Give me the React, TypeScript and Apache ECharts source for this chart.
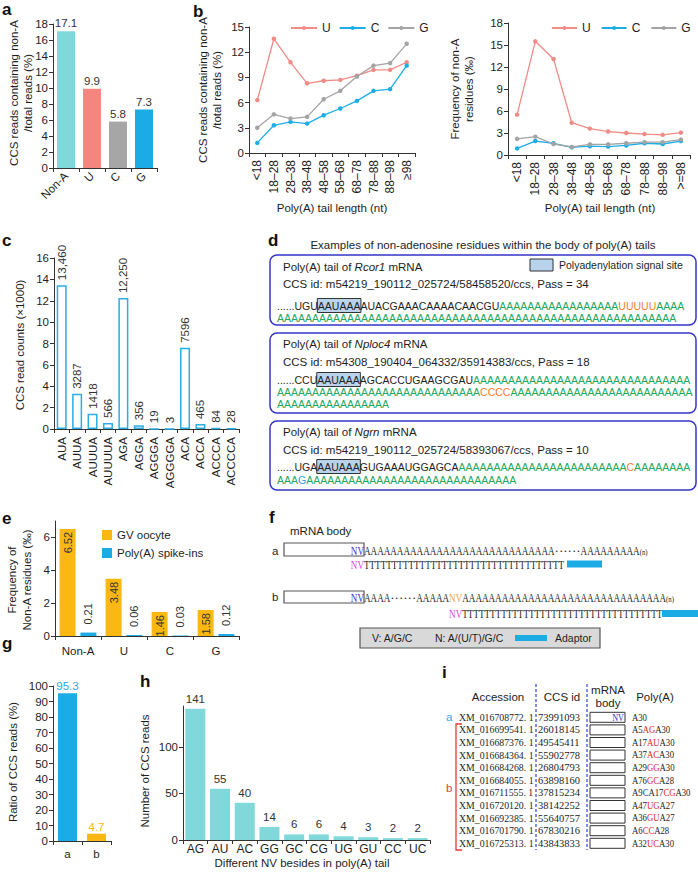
import { useEffect, useRef } from 'react';
import * as echarts from 'echarts';

const SANS = "'Liberation Sans', Arial, Helvetica, sans-serif";
const SERIF = "'Liberation Serif', 'Times New Roman', Times, serif";

const CYAN = '#80D8DB';
const SALMON = '#F4867F';
const GRAY = '#A6A6A6';
const BLUE = '#1BACE6';
const YELLOW = '#FBB812';
const LINE_U = '#F08B86';
const LINE_C = '#1DAEE5';
const LINE_G = '#A4A4A4';
const TXT = '#1e1e1e';
const AXC = '#333333';
const GREEN = '#23A75B';
const ORANGE = '#F07E2E';
const RED = '#E3262B';
const NAVY = '#3535C8';

// ---------- panel a
const aCategories = ['Non-A', 'U', 'C', 'G'];
const aValues = [17.1, 9.9, 5.8, 7.3];
const aColors = [CYAN, SALMON, GRAY, BLUE];

// ---------- panel b
const bLengthsLeft = ['<18', '18–28', '28–38', '38–48', '48–58', '58–68', '68–78', '78–88', '88–98', '≥98'];
const bLengthsRight = ['<18', '18–28', '28–38', '38–48', '48–58', '58–68', '68–78', '78–88', '88–98', '>=98'];
const bReadsU = [6.3, 13.6, 10.8, 8.3, 8.6, 8.7, 9.2, 9.9, 9.9, 10.8];
const bReadsC = [1.2, 3.3, 3.7, 3.5, 4.5, 5.3, 6.2, 7.4, 7.6, 10.4];
const bReadsG = [3.0, 4.6, 4.1, 4.3, 6.4, 7.4, 9.1, 10.4, 10.7, 13.0];
const bFreqU = [5.5, 15.5, 13.1, 4.4, 3.6, 3.2, 3.0, 2.85, 2.75, 3.05];
const bFreqC = [0.9, 1.9, 1.6, 1.05, 1.2, 1.15, 1.3, 1.6, 1.5, 1.9];
const bFreqG = [2.2, 2.5, 1.5, 1.1, 1.45, 1.45, 1.6, 1.75, 1.75, 2.1];

// ---------- panel c
const cMotifs = ['AUA', 'AUUA', 'AUUUA', 'AUUUUA', 'AGA', 'AGGA', 'AGGGA', 'AGGGGA', 'ACA', 'ACCA', 'ACCCA', 'ACCCCA'];
const cCounts = [13460, 3287, 1418, 566, 12250, 356, 19, 3, 7596, 465, 84, 28];

// ---------- panel e
const eCategories = ['Non-A', 'U', 'C', 'G'];
const eOocyte = [6.52, 3.48, 1.46, 1.58];
const eSpikeIns = [0.21, 0.06, 0.03, 0.12];

// ---------- panel g
const gCategories = ['a', 'b'];
const gValues = [95.3, 4.7];
const gColors = [BLUE, YELLOW];

// ---------- panel h
const hPairs = ['AG', 'AU', 'AC', 'GG', 'GC', 'CG', 'UG', 'GU', 'CC', 'UC'];
const hCounts = [141, 55, 40, 14, 6, 6, 4, 3, 2, 2];

// ---------- panel d (text)
const dGenes = ['Rcor1', 'Nploc4', 'Ngrn'];
const dCcsIds = [
  'CCS id: m54219_190112_025724/58458520/ccs, Pass = 34',
  'CCS id: m54308_190404_064332/35914383/ccs, Pass = 18',
  'CCS id: m54219_190112_025724/58393067/ccs, Pass = 10',
];
const A = (n: number) => 'A'.repeat(n);
// kinds: k black, h highlighted, a green A, u orange, g blue
const dSeqs: [string, string][][][] = [
  [
    [['......UGU', 'k'], ['AAUAAA', 'h'], ['AUACGAAACAAAACAACGU', 'k'], [A(17), 'a'], ['UUUUU', 'u'], ['AAAA', 'a']],
    [[A(57), 'a']],
  ],
  [
    [['......CCU', 'k'], ['AAUAAA', 'h'], ['AGCACCUGAAGCGAU', 'k'], [A(31), 'a']],
    [[A(29), 'a'], ['CCCC', 'u'], [A(26), 'a']],
    [[A(16), 'a']],
  ],
  [
    [['......UGA', 'k'], ['AAUAAA', 'h'], ['GUGAAAUGGAGCA', 'k'], [A(24), 'a'], ['C', 'u'], [A(8), 'a']],
    [['AAA', 'a'], ['G', 'g'], [A(30), 'a']],
  ],
];

// ---------- panel i (text)
const iAccessions = [
  'XM_016708772. 1', 'XM_016699541. 1', 'XM_016687376. 1', 'XM_016684364. 1', 'XM_016684268. 1', 'XM_016684055. 1',
  'XM_016711555. 1', 'XM_016720120. 1', 'XM_016692385. 1', 'XM_016701790. 1', 'XM_016725313. 1',
];
const iCcsIds = ['73991093', '26018145', '49545411', '55902778', '26804793', '63898160', '37815234', '38142252', '55640757', '67830216', '43843833'];
const iPolyA = ['A30', 'A5[AG]A30', 'A17[AU]A30', 'A37[AC]A30', 'A29[GG]A30', 'A76[GC]A28', 'A9{C}A17[CG]A30', 'A47[UG]A27', 'A36[GU]A27', 'A6[CC]A28', 'A32[UC]A30'];

// ---------- helpers
let mctx: CanvasRenderingContext2D | null = null;
function measure(text: string, size: number, fam: string, italic?: boolean) {
  if (!mctx) mctx = document.createElement('canvas').getContext('2d');
  mctx!.font = `${italic ? 'italic ' : ''}${size}px ${fam}`;
  return mctx!.measureText(text).width;
}

function textEl(x: number, y: number, text: string, o: any = {}) {
  const style: any = {
    text,
    fill: o.c || TXT,
    fontSize: o.size || 11.5,
    fontFamily: o.fam || SANS,
    fontStyle: o.italic ? 'italic' : 'normal',
    fontWeight: o.bold ? 'bold' : 'normal',
    align: o.align || 'left',
    verticalAlign: o.va || 'middle',
  };
  if (o.lh) style.lineHeight = o.lh;
  return { type: 'text', x, y, silent: true, rotation: o.rotation || 0, scaleX: o.sx || 1, style };
}

type Seg = { t: string; c?: string; size?: number; fam?: string; italic?: boolean; sx?: number; dy?: number; hl?: boolean };
function run(x0: number, y: number, segs: Seg[]) {
  let x = x0;
  const els: any[] = [];
  const spans: { x: number; w: number; hl?: boolean }[] = [];
  for (const s of segs) {
    const size = s.size ?? 10.5;
    const fam = s.fam ?? SANS;
    const sx = s.sx ?? 1;
    const w = measure(s.t, size, fam, s.italic) * sx;
    els.push(textEl(x, y + (s.dy ?? 0), s.t, { c: s.c, size, fam, italic: s.italic, sx }));
    spans.push({ x, w, hl: s.hl });
    x += w;
  }
  return { els, spans, end: x };
}

function rect(x: number, y: number, w: number, h: number, style: any, r = 0) {
  return { type: 'rect', silent: true, shape: { x, y, width: w, height: h, r }, style };
}

function catAxis(gridIndex: number, data: string[], label: any = {}) {
  return {
    type: 'category', gridIndex, data,
    axisLine: { show: true, lineStyle: { color: AXC, width: 1 } },
    axisTick: { show: true, length: 4, lineStyle: { color: AXC } },
    axisLabel: { color: TXT, fontSize: 11.5, fontFamily: SANS, margin: 6, interval: 0, ...label },
    splitLine: { show: false },
  };
}
function valAxis(gridIndex: number, max: number, interval: number, ticks?: number[]) {
  const ax: any = {
    type: 'value', gridIndex, min: 0, max, interval,
    axisLine: { show: true, lineStyle: { color: AXC, width: 1 } },
    axisTick: { show: true, length: 4, lineStyle: { color: AXC } },
    axisLabel: { color: TXT, fontSize: 11.5, fontFamily: SANS, margin: 5 },
    splitLine: { show: false },
  };
  if (ticks) {
    ax.axisTick.customValues = ticks;
    ax.axisLabel.customValues = ticks;
  }
  return ax;
}

function lineSeries(name: string, data: number[], color: string, idx: number) {
  return {
    type: 'line', name, data, xAxisIndex: idx, yAxisIndex: idx,
    symbol: 'circle', symbolSize: 4.5, showSymbol: true,
    itemStyle: { color }, lineStyle: { color, width: 1.3 },
  };
}

function buildGraphics() {
  const g: any[] = [];
  const R = Math.PI / 2;
  // panel letters
  const letters: [string, number, number][] = [
    ['a', 2, 9], ['b', 193, 11], ['c', 2, 240], ['d', 268, 240], ['e', 2, 518], ['f', 269, 517], ['g', 2, 643], ['h', 140, 681], ['i', 442, 672],
  ];
  letters.forEach(([t, x, y]) => g.push(textEl(x, y, t, { size: 17, bold: true, c: '#111' })));

  // axis names
  g.push(textEl(21, 93, 'CCS reads containing non-A\n/total reads (%)', { rotation: R, align: 'center', lh: 14 }));
  g.push(textEl(210, 90, 'CCS reads containing non-A\n/total reads (%)', { rotation: R, align: 'center', lh: 14 }));
  g.push(textEl(462, 89, 'Frequency of non-A\nresidues (‰)', { rotation: R, align: 'center', lh: 14 }));
  g.push(textEl(332, 208, 'Poly(A) tail length (nt)', { align: 'center' }));
  g.push(textEl(600, 208, 'Poly(A) tail length (nt)', { align: 'center' }));
  g.push(textEl(20, 345, 'CCS read counts (×1000)', { rotation: R, align: 'center' }));
  g.push(textEl(19, 580, 'Frequency of\nNon-A residues (‰)', { rotation: R, align: 'center', lh: 15 }));
  g.push(textEl(13, 762, 'Ratio of CCS reads (%)', { rotation: R, align: 'center' }));
  g.push(textEl(145, 771, 'Number of CCS reads', { rotation: R, align: 'center' }));
  g.push(textEl(302, 863, 'Different NV besides in poly(A) tail', { align: 'center' }));

  // ---------- panel d
  g.push(textEl(483, 245, 'Examples of non-adenosine residues within the body of poly(A) tails', { align: 'center', size: 11.5 }));
  const boxes = [[255, 325], [333, 413], [421, 490]];
  const titleY = [267, 344, 432];
  const ccsY = [284, 362, 450];
  const seqY = [[306, 318], [380, 392, 404], [467, 480]];
  const kindColor: Record<string, string> = { k: TXT, h: TXT, a: GREEN, u: ORANGE, g: '#2AA8E0' };
  boxes.forEach(([t, b], bi) => {
    g.push(rect(270, t, 426, b - t, { fill: 'none', stroke: NAVY, lineWidth: 1.5 }, 7));
    const tl = run(283, titleY[bi], [
      { t: 'Poly(A) tail of ', size: 11.5 },
      { t: dGenes[bi], size: 11.5, italic: true },
      { t: ' mRNA', size: 11.5 },
    ]);
    g.push(...tl.els);
    g.push(textEl(283, ccsY[bi], dCcsIds[bi], { size: 11.5 }));
    dSeqs[bi].forEach((line, li) => {
      const y = seqY[bi][li];
      const r = run(277, y, line.map(([t, k]) => ({ t, c: kindColor[k], size: 10.5, hl: k === 'h' })));
      r.spans.forEach((s) => {
        if (s.hl) g.push(rect(s.x - 0.5, y - 7.5, s.w + 1, 14, { fill: '#B9D3EC', stroke: '#333', lineWidth: 1 }));
      });
      g.push(...r.els);
    });
  });
  g.push(rect(530, 259, 23, 12, { fill: '#B9D3EC', stroke: '#333', lineWidth: 1 }));
  g.push(textEl(559, 265, 'Polyadenylation signal site', { size: 10.5 }));

  // ---------- panel f
  const FS = 13;
  const SX = 0.7;
  const nvW = measure('NV', FS, SERIF) * SX;
  g.push(textEl(290, 531, 'mRNA body', { size: 11.5 }));
  g.push(textEl(272, 551, 'a', { size: 11.5 }));
  g.push(textEl(272, 597, 'b', { size: 11.5 }));
  const boxStyle = { fill: '#fff', stroke: '#555', lineWidth: 1.2 };
  // row a
  g.push(rect(284, 543, 80, 13, boxStyle));
  g.push(...run(364 - nvW, 550, [{ t: 'NV', c: NAVY, size: FS, fam: SERIF, sx: SX }]).els);
  g.push(...run(364, 550, [
    { t: A(29), c: TXT, size: FS, fam: SERIF, sx: SX },
    { t: '······', c: TXT, size: FS, fam: SERIF, sx: 1 },
    { t: A(9), c: TXT, size: FS, fam: SERIF, sx: SX },
    { t: '(n)', c: TXT, size: 8, fam: SERIF, sx: 0.85, dy: 2 },
  ]).els);
  g.push(...run(364 - nvW, 564, [
    { t: 'NV', c: '#E03FE0', size: FS, fam: SERIF, sx: SX },
    { t: 'T'.repeat(36), c: TXT, size: FS, fam: SERIF, sx: SX },
  ]).els);
  g.push(rect(567, 560.5, 35, 7, { fill: BLUE }));
  // row b
  g.push(rect(284, 591, 80, 12, boxStyle));
  g.push(...run(364 - nvW, 597, [{ t: 'NV', c: NAVY, size: FS, fam: SERIF, sx: SX }]).els);
  const rb = run(364, 597, [
    { t: 'AAAA', c: TXT, size: FS, fam: SERIF, sx: SX },
    { t: '······', c: TXT, size: FS, fam: SERIF, sx: 1 },
    { t: 'AAAAA', c: TXT, size: FS, fam: SERIF, sx: SX },
    { t: 'NV', c: '#F2A24A', size: FS, fam: SERIF, sx: SX },
    { t: A(31), c: TXT, size: FS, fam: SERIF, sx: SX },
    { t: '(n)', c: TXT, size: 8, fam: SERIF, sx: 0.85, dy: 2 },
  ]);
  g.push(...rb.els);
  g.push(...run(rb.spans[3].x, 613, [
    { t: 'NV', c: '#E03FE0', size: FS, fam: SERIF, sx: SX },
    { t: 'T'.repeat(36), c: TXT, size: FS, fam: SERIF, sx: SX },
  ]).els);
  g.push(rect(662, 610, 36, 7, { fill: BLUE }));
  // legend box
  g.push(rect(360, 628, 240, 20, { fill: '#D9D9D9', stroke: '#555', lineWidth: 1.2 }));
  g.push(textEl(372, 638, 'V: A/G/C', { size: 10.5 }));
  g.push(textEl(435, 638, 'N: A/(U/T)/G/C', { size: 10.5 }));
  g.push(rect(515, 635, 32, 6, { fill: BLUE }));
  g.push(textEl(555, 638, 'Adaptor', { size: 10.5 }));

  // ---------- panel i
  g.push(textEl(498, 697, 'Accession', { align: 'center', size: 11.5 }));
  g.push(textEl(562, 697, 'CCS id', { align: 'center', size: 11.5 }));
  g.push(textEl(608, 690, 'mRNA', { align: 'center', size: 11.5 }));
  g.push(textEl(608, 703, 'body', { align: 'center', size: 11.5 }));
  g.push(textEl(655, 697, 'Poly(A)', { align: 'center', size: 11.5 }));
  [536, 587].forEach((x) =>
    g.push({ type: 'line', silent: true, shape: { x1: x, y1: 684, x2: x, y2: 850 }, style: { stroke: '#3344CC', lineWidth: 1.2, lineDash: [3, 2] } })
  );
  g.push({ type: 'polyline', silent: true, shape: { points: [[462, 724], [456, 724], [456, 850], [462, 850]] }, style: { stroke: '#E8393A', lineWidth: 1.3, fill: 'none' } });
  g.push(textEl(446, 717, 'a', { size: 11.5, c: '#29ABE2' }));
  g.push(textEl(446, 788, 'b', { size: 11.5, c: '#E8393A' }));
  iAccessions.forEach((acc, k) => {
    const y = 717.3 + 12.6 * k;
    g.push(textEl(459, y, acc, { size: 9.8, fam: SERIF }));
    g.push(textEl(538, y, iCcsIds[k], { size: 10.5, fam: SERIF }));
    g.push(rect(590, y - 5, 35, 10, { fill: '#fff', stroke: '#333', lineWidth: 1 }));
    if (k === 0) g.push(textEl(624, y, 'NV', { size: 10, fam: SERIF, c: NAVY, align: 'right', sx: 0.82 }));
    const segs: Seg[] = [];
    const re = /\[([^\]]+)\]|\{([^}]+)\}|([^[{]+)/g;
    let m: RegExpExecArray | null;
    while ((m = re.exec(iPolyA[k]))) {
      if (m[1]) segs.push({ t: m[1], c: RED, size: 10, fam: SERIF, sx: 0.87 });
      else if (m[2]) segs.push({ t: m[2], c: NAVY, size: 10, fam: SERIF, sx: 0.87 });
      else segs.push({ t: m[3], c: TXT, size: 10, fam: SERIF, sx: 0.87 });
    }
    g.push(...run(632, y, segs).els);
  });
  return g;
}

function buildOption() {
  const grids = [
    { left: 53, top: 24, width: 104, height: 144 },
    { left: 249, top: 27, width: 166, height: 126 },
    { left: 508, top: 23, width: 182, height: 132 },
    { left: 54, top: 258, width: 185, height: 171 },
    { left: 55, top: 521, width: 184, height: 115 },
    { left: 53, top: 686, width: 58, height: 155 },
    { left: 183, top: 706, width: 247, height: 134 },
  ].map((gr) => ({ ...gr, containLabel: false, outerBoundsMode: 'none' }));

  const legendText = { fontSize: 12, color: TXT, fontFamily: SANS };
  return {
    animation: false,
    backgroundColor: '#fff',
    textStyle: { fontFamily: SANS },
    grid: grids,
    legend: [
      { data: ['U', 'C', 'G'], left: 285, top: 17, itemWidth: 26, itemHeight: 5, itemGap: 8, textStyle: legendText, selectedMode: false },
      { data: ['U', 'C', 'G'], left: 546, top: 17, itemWidth: 25, itemHeight: 5, itemGap: 10, textStyle: legendText, selectedMode: false },
      {
        data: ['GV oocyte', 'Poly(A) spike-ins'], orient: 'vertical', left: 97, top: 524, icon: 'rect',
        itemWidth: 10, itemHeight: 10, itemGap: 6, textStyle: { ...legendText, fontSize: 11.5 }, selectedMode: false,
      },
    ],
    xAxis: [
      catAxis(0, aCategories, { rotate: 45, margin: 6 }),
      catAxis(1, bLengthsLeft, { rotate: 90, fontSize: 12, margin: 7 }),
      catAxis(2, bLengthsRight, { rotate: 90, fontSize: 12, margin: 7 }),
      catAxis(3, cMotifs, { rotate: 90, margin: 8 }),
      catAxis(4, eCategories, { margin: 9 }),
      catAxis(5, gCategories, { margin: 7 }),
      catAxis(6, hPairs, { fontSize: 12, margin: 3 }),
    ],
    yAxis: [
      valAxis(0, 18, 2),
      valAxis(1, 15, 3),
      valAxis(2, 18, 3),
      valAxis(3, 16, 2),
      valAxis(4, 7, 2, [0, 2, 4, 6]),
      valAxis(5, 100, 10),
      valAxis(6, 144, 50, [0, 50, 100]),
    ],
    series: [
      {
        type: 'bar', xAxisIndex: 0, yAxisIndex: 0, barWidth: 18,
        data: aValues.map((v, i) => ({ value: v, itemStyle: { color: aColors[i] } })),
        label: { show: true, position: 'top', distance: 2, fontSize: 11.5, color: '#333' },
      },
      lineSeries('U', bReadsU, LINE_U, 1),
      lineSeries('C', bReadsC, LINE_C, 1),
      lineSeries('G', bReadsG, LINE_G, 1),
      lineSeries('U', bFreqU, LINE_U, 2),
      lineSeries('C', bFreqC, LINE_C, 2),
      lineSeries('G', bFreqG, LINE_G, 2),
      {
        type: 'bar', xAxisIndex: 3, yAxisIndex: 3, barWidth: 10,
        data: cCounts.map((v) => v / 1000),
        itemStyle: { color: '#ffffff', borderColor: '#2AAEE4', borderWidth: 1.5 },
        label: {
          show: true, position: 'top', rotate: 90, align: 'left', verticalAlign: 'middle', distance: 5,
          fontSize: 11.5, color: '#333',
          formatter: (p: any) => {
            const v = cCounts[p.dataIndex];
            return v >= 10000 ? v.toLocaleString('en-US') : String(v);
          },
        },
      },
      {
        type: 'bar', name: 'GV oocyte', xAxisIndex: 4, yAxisIndex: 4, barWidth: 16, barGap: '30%',
        data: eOocyte, itemStyle: { color: YELLOW },
        label: {
          show: true, position: 'insideTop', rotate: 90, align: 'right', verticalAlign: 'middle', distance: 3,
          fontSize: 11, color: '#333', formatter: (p: any) => Number(p.value).toFixed(2),
        },
      },
      {
        type: 'bar', name: 'Poly(A) spike-ins', xAxisIndex: 4, yAxisIndex: 4, barWidth: 16, barGap: '30%',
        data: eSpikeIns, itemStyle: { color: BLUE },
        label: {
          show: true, position: 'top', rotate: 90, align: 'left', verticalAlign: 'middle', distance: 8,
          fontSize: 11, color: '#333', formatter: (p: any) => Number(p.value).toFixed(2),
        },
      },
      {
        type: 'bar', xAxisIndex: 5, yAxisIndex: 5, barWidth: 19,
        data: gValues.map((v, i) => ({ value: v, itemStyle: { color: gColors[i] }, label: { color: gColors[i] } })),
        label: { show: true, position: 'top', distance: 1, fontSize: 11.5 },
      },
      {
        type: 'bar', xAxisIndex: 6, yAxisIndex: 6, barWidth: 20,
        data: hCounts, itemStyle: { color: CYAN },
        label: { show: true, position: 'top', distance: 4, fontSize: 11.5, color: '#333' },
      },
    ],
    graphic: { elements: buildGraphics() },
  };
}

export default function App() {
  const ref = useRef<HTMLDivElement>(null);
  useEffect(() => {
    if (!ref.current) return;
    const chart = echarts.init(ref.current, undefined, { renderer: 'svg' });
    chart.setOption(buildOption() as any);
    return () => chart.dispose();
  }, []);
  return (
    <div
      ref={ref}
      style={{ position: 'absolute', left: 0, top: 0, width: 698, height: 878, background: '#fff' }}
    />
  );
}
